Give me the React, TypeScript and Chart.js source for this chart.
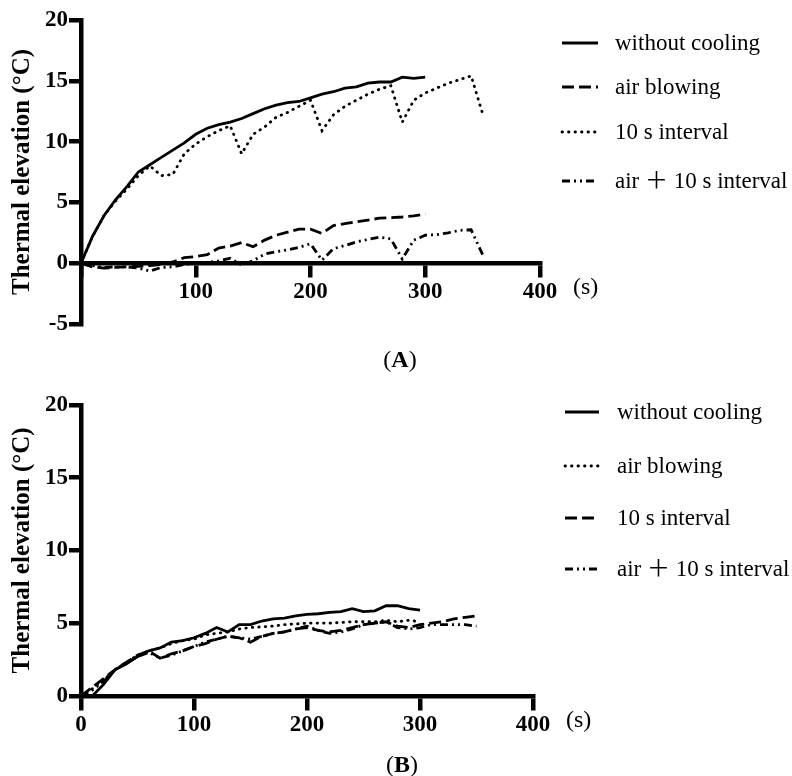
import React, { useEffect, useRef } from 'react';
import { Chart, registerables } from 'chart.js';

Chart.register(...registerables);

// ---------- data ----------
const timeTo300 = [0, 10, 20, 30, 40, 50, 60, 70, 80, 90, 100, 110, 120, 130, 140, 150, 160, 170, 180, 190, 200, 210, 220, 230, 240, 250, 260, 270, 280, 290, 300];
const timeTo350 = [0, 10, 20, 30, 40, 50, 60, 70, 80, 90, 100, 110, 120, 130, 140, 150, 160, 170, 180, 190, 200, 210, 220, 230, 240, 250, 260, 270, 280, 290, 300, 310, 320, 330, 340, 350];

const seriesLabels = ['without cooling', 'air blowing', '10 s interval', 'air ＋ 10 s interval'];

// Panel A
const aWithoutCooling = [0, 2.2, 3.9, 5.2, 6.3, 7.5, 8.1, 8.7, 9.3, 9.9, 10.6, 11.1, 11.4, 11.6, 11.9, 12.3, 12.7, 13.0, 13.2, 13.3, 13.6, 13.9, 14.1, 14.4, 14.5, 14.8, 14.9, 14.9, 15.3, 15.2, 15.3];
const aAirBlowing = [0, -0.3, -0.4, -0.35, -0.3, -0.25, -0.2, -0.1, 0.1, 0.45, 0.55, 0.7, 1.25, 1.4, 1.7, 1.35, 1.9, 2.3, 2.55, 2.8, 2.8, 2.45, 3.1, 3.25, 3.4, 3.55, 3.7, 3.75, 3.8, 3.9, 4.05];
const aInterval10 = [0, 2.2, 3.9, 5.1, 6.1, 7.2, 8.0, 7.2, 7.3, 9.0, 9.8, 10.4, 10.9, 11.3, 9.0, 10.6, 11.2, 12.0, 12.4, 12.9, 13.4, 10.9, 12.2, 12.9, 13.4, 13.9, 14.3, 14.6, 11.6, 13.4, 14.0, 14.4, 14.8, 15.1, 15.4, 12.3];
const aAirInterval10 = [0, -0.2, -0.35, -0.3, -0.3, -0.4, -0.65, -0.35, -0.3, -0.1, 0, 0.05, 0.2, 0.4, -0.15, 0.2, 0.75, 0.95, 1.1, 1.3, 1.6, 0.25, 1.2, 1.45, 1.75, 1.95, 2.15, 2.0, 0.35, 1.9, 2.3, 2.35, 2.5, 2.7, 2.75, 0.7];

// Panel B
const bWithoutCooling = [0, 0, 0.8, 1.8, 2.2, 2.7, 3.1, 3.3, 3.7, 3.8, 4.0, 4.3, 4.7, 4.4, 4.9, 4.9, 5.15, 5.3, 5.35, 5.5, 5.6, 5.65, 5.75, 5.8, 6.0, 5.8, 5.85, 6.2, 6.2, 6.0, 5.9];
const bAirBlowing = [0, 0.5, 1.1, 1.8, 2.3, 2.8, 3.1, 3.3, 3.6, 3.8, 3.9, 4.2, 4.3, 4.4, 4.6, 4.7, 4.75, 4.8, 4.9, 4.95, 5.0, 5.0, 5.0, 5.05, 5.1, 5.1, 5.1, 5.2, 5.1, 5.2, 5.1];
const bInterval10 = [0, 0.6, 1.2, 1.8, 2.3, 2.8, 3.1, 2.6, 2.9, 3.1, 3.4, 3.6, 3.9, 4.1, 4.0, 3.7, 4.1, 4.3, 4.4, 4.6, 4.7, 4.5, 4.4, 4.5, 4.7, 4.9, 5.0, 5.1, 4.8, 4.7, 4.9, 5.0, 5.1, 5.3, 5.4, 5.5];
const bAirInterval10 = [0, 0.4, 1.0, 1.8, 2.3, 2.7, 3.0, 2.6, 2.8, 3.1, 3.4, 3.7, 3.9, 4.1, 4.0, 3.9, 4.1, 4.3, 4.4, 4.6, 4.8, 4.5, 4.3, 4.4, 4.6, 4.9, 5.0, 5.1, 4.7, 4.6, 4.7, 4.9, 4.9, 4.9, 4.9, 4.8];

const xTickStep = 100;
const xMin = 0;
const xMax = 400;
const yTickStep = 5;
const yRangeA = [-5, 20];
const yRangeB = [0, 20];
const yTitle = 'Thermal elevation (°C)';
const xUnit = '(s)';

// ---------- styles ----------
const SERIF = '"Liberation Serif", "Times New Roman", serif';
const LEGEND_FONT = '23px "Liberation Serif", "Noto Sans CJK SC", serif';
const SOLID: number[] = [];
const DASHED = [12, 5];
const DOTTED = [0.5, 6];
const DASHDOT = [8, 4, 2, 4, 2, 4];

const toPoints = (xs: number[], ys: number[]) => xs.map((x, i) => ({ x, y: ys[i] }));

const ds = (label: string, xs: number[], ys: number[], dash: number[]) => ({
  label,
  data: toPoints(xs, ys),
  borderColor: '#000',
  backgroundColor: '#000',
  borderWidth: 2.8,
  borderDash: dash,
  borderCapStyle: dash === DOTTED ? 'round' : 'butt',
  pointRadius: 0,
  tension: 0,
  fill: false,
});

type Extra = {
  legendX1: number;
  legendX2: number;
  textX: number;
  legendRows: number[];
  caption: string;
  captionX: number;
  captionBase: number;
};

const overlayPlugin = (extra: Extra) => ({
  id: 'overlay',
  afterDraw(chart: any) {
    const ctx = chart.ctx as CanvasRenderingContext2D;
    const xs = chart.scales.x;
    const ys = chart.scales.y;
    ctx.save();
    ctx.fillStyle = '#000';
    ctx.strokeStyle = '#000';
    // legend
    chart.data.datasets.forEach((d: any, i: number) => {
      const y = extra.legendRows[i];
      ctx.beginPath();
      ctx.setLineDash(d.borderDash || []);
      ctx.lineCap = d.borderCapStyle || 'butt';
      ctx.lineWidth = 2.8;
      ctx.moveTo(extra.legendX1, y);
      ctx.lineTo(extra.legendX2, y);
      ctx.stroke();
      ctx.setLineDash([]);
      ctx.font = LEGEND_FONT;
      ctx.textAlign = 'left';
      ctx.textBaseline = 'middle';
      ctx.fillText(d.label, extra.textX, y + 1);
    });
    // axis unit
    const axisY = ys.getPixelForValue(0);
    ctx.font = '24px ' + SERIF;
    ctx.textAlign = 'left';
    ctx.textBaseline = 'middle';
    ctx.fillText(xUnit, xs.right + 33, axisY + 25);
    // caption "(A)" with bold letter
    ctx.textBaseline = 'alphabetic';
    const normal = '24px ' + SERIF;
    const bold = 'bold 24px ' + SERIF;
    ctx.font = normal;
    const wL = ctx.measureText('(').width;
    const wR = ctx.measureText(')').width;
    ctx.font = bold;
    const wM = ctx.measureText(extra.caption).width;
    let x = extra.captionX - (wL + wM + wR) / 2;
    ctx.font = normal;
    ctx.fillText('(', x, extra.captionBase);
    x += wL;
    ctx.font = bold;
    ctx.fillText(extra.caption, x, extra.captionBase);
    x += wM;
    ctx.font = normal;
    ctx.fillText(')', x, extra.captionBase);
    ctx.restore();
  },
});

const axisCommon = {
  grid: {
    display: true,
    drawOnChartArea: false,
    drawTicks: true,
    tickLength: 12,
    tickWidth: 4.5,
    lineWidth: 4.5,
    tickColor: '#000',
    color: '#000',
  },
  border: { display: true, color: '#000', width: 4.5 },
};

function buildConfig(
  datasets: any[],
  yRange: number[],
  padding: any,
  hideZeroX: boolean,
  extra: Extra
) {
  return {
    type: 'line',
    data: { datasets },
    plugins: [overlayPlugin(extra)],
    options: {
      responsive: false,
      animation: false,
      events: [],
      layout: { padding },
      plugins: { legend: { display: false }, tooltip: { enabled: false }, title: { display: false } },
      scales: {
        x: {
          type: 'linear',
          min: xMin,
          max: xMax,
          position: { y: 0 },
          afterFit: (s: any) => {
            s.height = 0;
          },
          ticks: {
            stepSize: xTickStep,
            autoSkip: false,
            maxRotation: 0,
            padding: 3,
            color: '#000',
            font: { family: SERIF, size: 23, weight: 'bold' },
            callback: (v: number) => (hideZeroX && v === 0 ? '' : String(v)),
          },
          ...axisCommon,
        },
        y: {
          type: 'linear',
          min: yRange[0],
          max: yRange[1],
          afterFit: (s: any) => {
            s.width = 81;
          },
          ticks: {
            stepSize: yTickStep,
            padding: 1,
            color: '#000',
            font: { family: SERIF, size: 23, weight: 'bold' },
          },
          title: {
            display: true,
            text: yTitle,
            color: '#000',
            font: { family: SERIF, size: 25, weight: 'bold' },
            padding: { top: 8, bottom: 0 },
          },
          ...axisCommon,
        },
      },
    },
  };
}

function Panel(props: { config: () => any; height: number; top: number }) {
  const ref = useRef<HTMLCanvasElement | null>(null);
  useEffect(() => {
    if (!ref.current) return;
    const chart = new Chart(ref.current, props.config());
    return () => chart.destroy();
  }, []);
  return (
    <canvas
      ref={ref}
      width={792}
      height={props.height}
      style={{ position: 'absolute', left: 0, top: props.top, width: 792, height: props.height, display: 'block' }}
    />
  );
}

export default function App() {
  const configA = () =>
    buildConfig(
      [
        ds(seriesLabels[0], timeTo300, aWithoutCooling, SOLID),
        ds(seriesLabels[1], timeTo300, aAirBlowing, DASHED),
        ds(seriesLabels[2], timeTo350, aInterval10, DOTTED),
        ds(seriesLabels[3], timeTo350, aAirInterval10, DASHDOT),
      ],
      yRangeA,
      { left: 0, top: 20, right: 252, bottom: 66 },
      true,
      { legendX1: 562, legendX2: 598, textX: 615, legendRows: [43, 87, 132, 181], caption: 'A', captionX: 400, captionBase: 367 }
    );
  const configB = () =>
    buildConfig(
      [
        ds(seriesLabels[0], timeTo300, bWithoutCooling, SOLID),
        ds(seriesLabels[1], timeTo300, bAirBlowing, DOTTED),
        ds(seriesLabels[2], timeTo350, bInterval10, DASHED),
        ds(seriesLabels[3], timeTo350, bAirInterval10, DASHDOT),
      ],
      yRangeB,
      { left: 0, top: 8, right: 259, bottom: 80 },
      false,
      { legendX1: 565, legendX2: 599, textX: 617, legendRows: [22, 76, 128, 179], caption: 'B', captionX: 402, captionBase: 382 }
    );
  return (
    <div style={{ position: 'absolute', left: 0, top: 0, width: 792, height: 776, background: '#fff' }}>
      <Panel config={configA} height={390} top={0} />
      <Panel config={configB} height={386} top={390} />
    </div>
  );
}
